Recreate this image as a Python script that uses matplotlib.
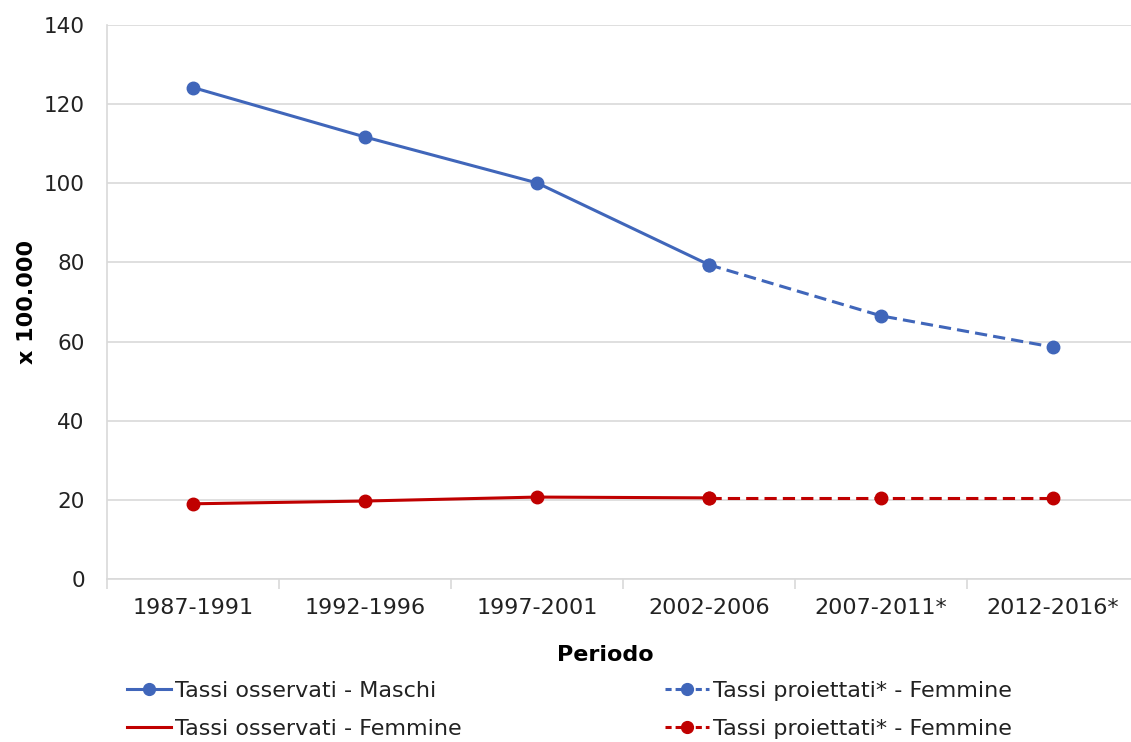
import matplotlib.pyplot as plt
from matplotlib.lines import Line2D

periodi = ["1987-1991", "1992-1996", "1997-2001", "2002-2006", "2007-2011*", "2012-2016*"]
maschi_oss = [124.2, 111.7, 100.1, 79.4]
maschi_pro = [79.4, 66.5, 58.6]
femmine_oss = [19.0, 19.7, 20.7, 20.5]
femmine_pro = [20.5, 20.5, 20.5]

blu = "#4066BA"
rosso = "#C00000"
grigio = "#D9D9D9"
testo = "#222222"

plt.rcParams['font.family'] = ['DejaVu Sans']

fig = plt.figure(figsize=(11.31, 7.42), dpi=100)
ax = fig.add_axes([0.0946, 0.2197, 0.9125, 0.7466])

x = list(range(len(periodi)))
x_oss = x[:4]
x_pro = x[3:]

ax.plot(x_oss, maschi_oss, color=blu, lw=2.2, marker='o', ms=9, zorder=3)
ax.plot(x_pro, maschi_pro, color=blu, lw=2.2, marker='o', ms=9, dashes=(4, 2), zorder=3)
ax.plot(x_oss, femmine_oss, color=rosso, lw=2.2, marker='o', ms=9, zorder=3)
ax.plot(x_pro, femmine_pro, color=rosso, lw=2.2, marker='o', ms=9, dashes=(4, 2), zorder=3)

ax.set_xlim(-0.5, len(periodi) - 0.5)
ax.set_ylim(0, 140)
ax.set_yticks(range(0, 141, 20))
ax.set_xticks(x)
ax.set_xticklabels(periodi, fontsize=16, color=testo)
ax.set_xticks([i + 0.5 for i in range(-1, len(periodi))], minor=True)
ax.tick_params(axis='x', which='major', length=0, pad=14)
ax.tick_params(axis='x', which='minor', length=7, color=grigio, width=1.2)
ax.tick_params(axis='y', length=0, labelsize=15.5, labelcolor=testo, pad=16)

ax.grid(axis='y', color=grigio, lw=1.2)
ax.set_axisbelow(True)
for s in ['top', 'right']:
    ax.spines[s].set_visible(False)
ax.spines['left'].set_color(grigio)
ax.spines['bottom'].set_color(grigio)
ax.spines['left'].set_linewidth(1.2)
ax.spines['bottom'].set_linewidth(1.2)

ax.set_ylabel("x 100.000", fontsize=16, fontweight='bold', labelpad=5)
fig.text(0.535, 0.117, "Periodo", fontsize=16, fontweight='bold', ha='center', va='center')

h_oss = [
    Line2D([], [], color=blu, lw=2.2, marker='o', ms=8.5),
    Line2D([], [], color=rosso, lw=2.2),
]
h_pro = [
    Line2D([], [], color=blu, lw=2.2, marker='o', ms=8.5, dashes=(2, 1.3)),
    Line2D([], [], color=rosso, lw=2.2, marker='o', ms=8.5, dashes=(2, 1.3)),
]
l_oss = ["Tassi osservati - Maschi", "Tassi osservati - Femmine"]
l_pro = ["Tassi proiettati* - Femmine", "Tassi proiettati* - Femmine"]

opts = dict(loc='upper left', frameon=False, fontsize=16, handlelength=2.0,
            handletextpad=0.15, labelspacing=0.82, borderaxespad=0, borderpad=0,
            labelcolor=testo)
leg1 = fig.legend(h_oss, l_oss, bbox_to_anchor=(0.1123, 0.0826), **opts)
leg2 = fig.legend(h_pro, l_pro, bbox_to_anchor=(0.588, 0.0826), **opts)

fig.savefig("out.png", dpi=100)
